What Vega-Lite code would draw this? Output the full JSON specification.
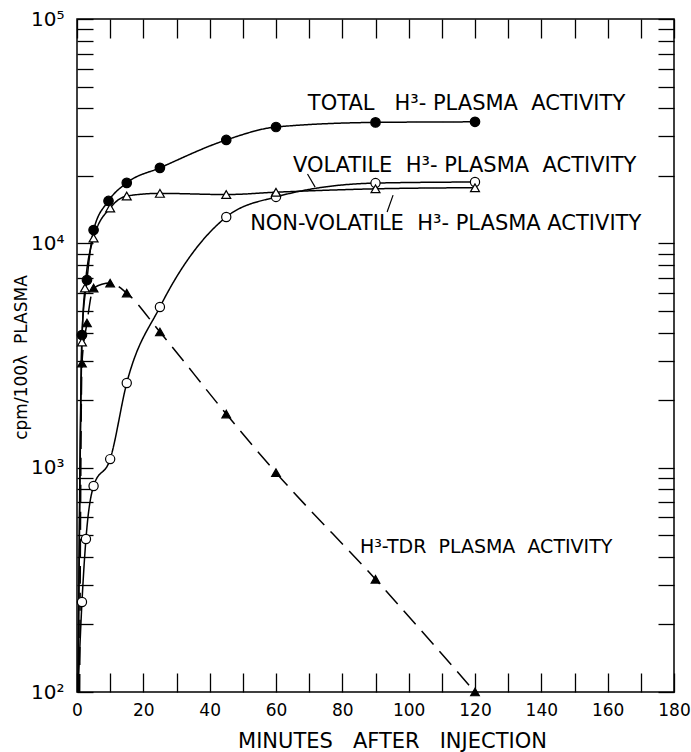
{
  "$schema": "https://vega.github.io/schema/vega-lite/v6.json",
  "width": 597,
  "height": 673,
  "autosize": {"type": "none"},
  "padding": {"left": 77, "top": 19, "right": 17, "bottom": 60},
  "background": "white",
  "config": {
    "view": {"stroke": "black", "strokeWidth": 1.5},
    "font": "DejaVu Sans",
    "axis": {
      "domain": false,
      "grid": false,
      "tickColor": "black",
      "tickWidth": 1.3,
      "labelColor": "black",
      "titleColor": "black",
      "labelFont": "DejaVu Sans",
      "titleFont": "DejaVu Sans",
      "labelFontWeight": "normal",
      "titleFontWeight": "normal",
      "labelOverlap": false,
      "labelFlush": false
    }
  },
  "datasets": {
    "curves": [
      {"series": "total", "kind": "start", "t": 0.3, "v": 100},
      {"series": "total", "kind": "measured", "t": 1.5, "v": 3900},
      {"series": "total", "kind": "measured", "t": 3, "v": 6860},
      {"series": "total", "kind": "measured", "t": 5, "v": 11460},
      {"series": "total", "kind": "measured", "t": 9.5, "v": 15450},
      {"series": "total", "kind": "measured", "t": 15, "v": 18600},
      {"series": "total", "kind": "measured", "t": 25, "v": 21700},
      {"series": "total", "kind": "measured", "t": 45, "v": 28900},
      {"series": "total", "kind": "measured", "t": 60, "v": 33000},
      {"series": "total", "kind": "measured", "t": 90, "v": 34600},
      {"series": "total", "kind": "measured", "t": 120, "v": 34800},
      {"series": "volatile", "kind": "start", "t": 0.3, "v": 100},
      {"series": "volatile", "kind": "measured", "t": 1.5, "v": 252},
      {"series": "volatile", "kind": "measured", "t": 2.7, "v": 481},
      {"series": "volatile", "kind": "measured", "t": 5, "v": 828},
      {"series": "volatile", "kind": "measured", "t": 10, "v": 1092},
      {"series": "volatile", "kind": "measured", "t": 15, "v": 2385},
      {"series": "volatile", "kind": "measured", "t": 25, "v": 5200},
      {"series": "volatile", "kind": "measured", "t": 45, "v": 13100},
      {"series": "volatile", "kind": "measured", "t": 60, "v": 16100},
      {"series": "volatile", "kind": "measured", "t": 90, "v": 18560},
      {"series": "volatile", "kind": "measured", "t": 120, "v": 18770},
      {"series": "nonvolatile", "kind": "start", "t": 0.3, "v": 100},
      {"series": "nonvolatile", "kind": "measured", "t": 1.5, "v": 3630},
      {"series": "nonvolatile", "kind": "measured", "t": 2.4, "v": 6320},
      {"series": "nonvolatile", "kind": "measured", "t": 5, "v": 10560},
      {"series": "nonvolatile", "kind": "measured", "t": 10, "v": 14370},
      {"series": "nonvolatile", "kind": "measured", "t": 15, "v": 16250},
      {"series": "nonvolatile", "kind": "measured", "t": 25, "v": 16700},
      {"series": "nonvolatile", "kind": "measured", "t": 45, "v": 16500},
      {"series": "nonvolatile", "kind": "measured", "t": 60, "v": 16900},
      {"series": "nonvolatile", "kind": "measured", "t": 90, "v": 17500},
      {"series": "nonvolatile", "kind": "measured", "t": 120, "v": 17700},
      {"series": "tdr", "kind": "start", "t": 0.8, "v": 100},
      {"series": "tdr", "kind": "measured", "t": 1.5, "v": 2925},
      {"series": "tdr", "kind": "measured", "t": 3, "v": 4414},
      {"series": "tdr", "kind": "measured", "t": 5, "v": 6320},
      {"series": "tdr", "kind": "measured", "t": 10, "v": 6650},
      {"series": "tdr", "kind": "measured", "t": 15, "v": 6000},
      {"series": "tdr", "kind": "measured", "t": 25, "v": 4025},
      {"series": "tdr", "kind": "measured", "t": 45, "v": 1734},
      {"series": "tdr", "kind": "measured", "t": 60, "v": 950},
      {"series": "tdr", "kind": "measured", "t": 90, "v": 318},
      {"series": "tdr", "kind": "measured", "t": 120, "v": 100}
    ],
    "labels": [
      {"group": "upper", "t": 69.6, "v": 39300, "text": "TOTAL\u00a0\u00a0\u00a0H³-\u00a0PLASMA\u00a0\u00a0ACTIVITY"},
      {"group": "upper", "t": 65.1, "v": 20800, "text": "VOLATILE\u00a0\u00a0H³-\u00a0PLASMA\u00a0\u00a0ACTIVITY"},
      {"group": "upper", "t": 52.2, "v": 11460, "text": "NON-VOLATILE\u00a0\u00a0H³-\u00a0PLASMA\u00a0ACTIVITY"},
      {"group": "lower", "t": 85.3, "v": 416, "text": "H³-TDR\u00a0\u00a0PLASMA\u00a0\u00a0ACTIVITY"}
    ],
    "leaders": [
      {"t": 69.5, "v": 20370, "t2": 71.8, "v2": 17800},
      {"t": 93.5, "v": 13800, "t2": 95.3, "v2": 16400}
    ]
  },
  "layer": [
    {
      "data": {"name": "curves"},
      "mark": {"type": "line", "interpolate": "monotone", "color": "black", "strokeWidth": 1.5},
      "encoding": {
        "x": {
          "field": "t", "type": "quantitative",
          "scale": {"domain": [0, 180], "nice": false, "zero": false},
          "axis": {
            "orient": "bottom",
            "values": [0, 10, 20, 30, 40, 50, 60, 70, 80, 90, 100, 110, 120, 130, 140, 150, 160, 170, 180],
            "labelExpr": "datum.value % 20 == 0 ? datum.label : ''",
            "tickSize": -19,
            "labelPadding": 29,
            "labelFontSize": 17,
            "labelBaseline": "top",
            "title": "MINUTES\u00a0\u00a0\u00a0AFTER\u00a0\u00a0\u00a0INJECTION",
            "titleFontSize": 21,
            "titleBaseline": "alphabetic",
            "titleX": 315,
            "titleY": 55
          }
        },
        "y": {
          "field": "v", "type": "quantitative",
          "scale": {"type": "log", "domain": [100, 100000], "nice": false},
          "axis": {
            "orient": "left",
            "values": [100, 200, 300, 400, 500, 600, 700, 800, 900, 1000, 2000, 3000, 4000, 5000, 6000, 7000, 8000, 9000, 10000, 20000, 30000, 40000, 50000, 60000, 70000, 80000, 90000, 100000],
            "labelExpr": "datum.value == 100000 ? '10⁵' : datum.value == 10000 ? '10⁴' : datum.value == 1000 ? '10³' : datum.value == 100 ? '10²' : ''",
            "tickSize": -16,
            "labelPadding": 29,
            "labelFontSize": 20,
            "title": "cpm/100λ\u00a0\u00a0PLASMA",
            "titleFontSize": 17,
            "titleAngle": -90,
            "titleX": -51,
            "titleY": 338,
            "titleBaseline": "alphabetic",
            "titleAlign": "center"
          }
        },
        "detail": {"field": "series"},
        "strokeDash": {
          "field": "series",
          "scale": {"domain": ["total", "volatile", "nonvolatile", "tdr"], "range": [[1, 0], [1, 0], [1, 0], [18, 9]]},
          "legend": null
        }
      }
    },
    {
      "data": {"name": "curves"},
      "transform": [{"filter": "datum.kind == 'measured'"}],
      "mark": {"type": "point", "filled": true, "stroke": "black", "strokeWidth": 1.2, "opacity": 1},
      "encoding": {
        "x": {
          "field": "t", "type": "quantitative",
          "axis": {
            "orient": "top",
            "values": [0, 10, 20, 30, 40, 50, 60, 70, 80, 90, 100, 110, 120, 130, 140, 150, 160, 170, 180],
            "tickSize": -19,
            "labels": false,
            "title": null
          }
        },
        "y": {
          "field": "v", "type": "quantitative",
          "axis": {
            "orient": "right",
            "values": [100, 200, 300, 400, 500, 600, 700, 800, 900, 1000, 2000, 3000, 4000, 5000, 6000, 7000, 8000, 9000, 10000, 20000, 30000, 40000, 50000, 60000, 70000, 80000, 90000, 100000],
            "tickSize": -16,
            "labels": false,
            "title": null
          }
        },
        "shape": {
          "field": "series",
          "scale": {"domain": ["total", "volatile", "nonvolatile", "tdr"], "range": ["circle", "circle", "triangle-up", "triangle-up"]},
          "legend": null
        },
        "fill": {
          "field": "series",
          "scale": {"domain": ["total", "volatile", "nonvolatile", "tdr"], "range": ["black", "white", "white", "black"]},
          "legend": null
        },
        "size": {
          "field": "series",
          "scale": {"domain": ["total", "volatile", "nonvolatile", "tdr"], "range": [90, 75, 125, 125]},
          "legend": null
        }
      }
    },
    {
      "data": {"name": "labels"},
      "transform": [{"filter": "datum.group == 'upper'"}],
      "mark": {"type": "text", "align": "left", "baseline": "alphabetic", "font": "DejaVu Sans", "fontSize": 21, "color": "black"},
      "encoding": {
        "x": {"field": "t", "type": "quantitative", "axis": null},
        "y": {"field": "v", "type": "quantitative", "axis": null},
        "text": {"field": "text"}
      }
    },
    {
      "data": {"name": "labels"},
      "transform": [{"filter": "datum.group == 'lower'"}],
      "mark": {"type": "text", "align": "left", "baseline": "alphabetic", "font": "DejaVu Sans", "fontSize": 19, "color": "black"},
      "encoding": {
        "x": {"field": "t", "type": "quantitative", "axis": null},
        "y": {"field": "v", "type": "quantitative", "axis": null},
        "text": {"field": "text"}
      }
    },
    {
      "data": {"name": "leaders"},
      "mark": {"type": "rule", "color": "black", "strokeWidth": 1.2},
      "encoding": {
        "x": {"field": "t", "type": "quantitative", "axis": null},
        "y": {"field": "v", "type": "quantitative", "axis": null},
        "x2": {"field": "t2"},
        "y2": {"field": "v2"}
      }
    }
  ],
  "resolve": {"axis": {"x": "independent", "y": "independent"}}
}
